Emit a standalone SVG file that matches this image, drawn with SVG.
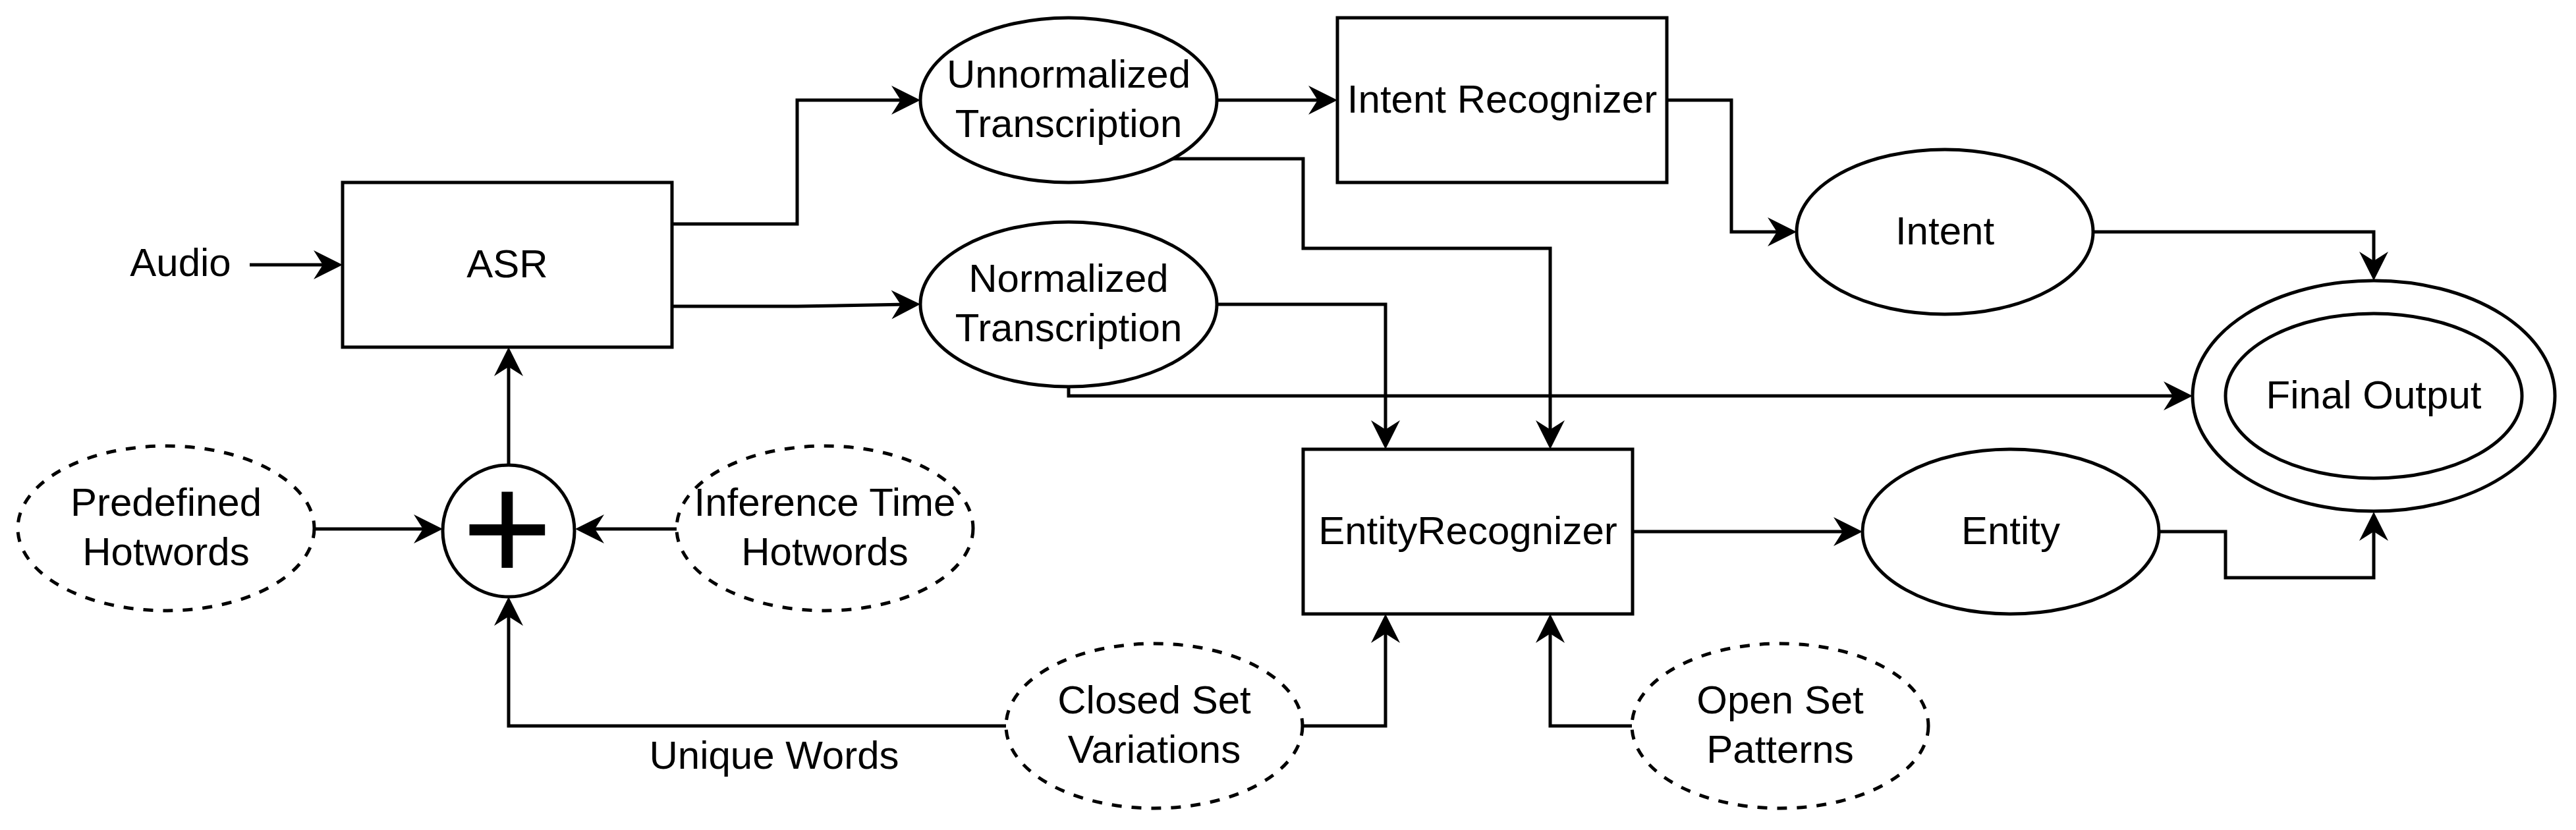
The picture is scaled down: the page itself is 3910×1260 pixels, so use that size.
<svg xmlns="http://www.w3.org/2000/svg" width="3910" height="1260" viewBox="0 0 3910 1260">
<style>
.shape{fill:#fff;stroke:#000;stroke-width:5}
.dash{stroke-dasharray:15 15}
.edge{fill:none;stroke:#000;stroke-width:5;marker-end:url(#arr)}
text{font-family:"Liberation Sans",Arial,sans-serif;font-size:60px;fill:#000;text-anchor:middle}
</style>
<defs>
<marker id="arr" markerUnits="userSpaceOnUse" markerWidth="50" markerHeight="50" viewBox="0 -25 50 50" refX="24" refY="0" orient="auto" overflow="visible">
<path d="M44,0 L0,-22 L14,0 L0,22 Z" fill="#000"/>
</marker>
</defs>
<rect width="3910" height="1260" fill="#fff"/>
<g id="connectors">
<path class="edge" d="M379,402 H500"/>
<path class="edge" d="M1020,340 H1210 V152 H1377"/>
<path class="edge" d="M1020,465 H1210 L1377,462"/>
<path class="edge" d="M1847,152 H2010"/>
<path class="edge" d="M1780,241 H1978 V377 H2353 V662"/>
<path class="edge" d="M1847,462 H2103 V662"/>
<path class="edge" d="M1622,587 V601 H3308"/>
<path class="edge" d="M2530,152 H2628 V352 H2707"/>
<path class="edge" d="M3177,352 H3603 V406"/>
<path class="edge" d="M2478,807 H2807"/>
<path class="edge" d="M3277,807 H3378 V877 H3603 V797"/>
<path class="edge" d="M772,706 V547"/>
<path class="edge" d="M477,803 H652"/>
<path class="edge" d="M1027,803 H893"/>
<path class="edge" d="M1527,1102 H772 V926"/>
<path class="edge" d="M1977,1102 H2103 V952"/>
<path class="edge" d="M2477,1102 H2353 V952"/>
<text x="1175" y="1167">Unique Words</text>
</g>
<g id="audio"><text x="274" y="419">Audio</text></g>
<g id="asr"><rect class="shape" x="520" y="277" width="500" height="250"/><text x="770" y="421">ASR</text></g>
<g id="unnormalized"><ellipse class="shape" cx="1622" cy="152" rx="225" ry="125"/><text x="1622" y="133">Unnormalized</text><text x="1622" y="208">Transcription</text></g>
<g id="normalized"><ellipse class="shape" cx="1622" cy="462" rx="225" ry="125"/><text x="1622" y="443">Normalized</text><text x="1622" y="518">Transcription</text></g>
<g id="intent-recognizer"><rect class="shape" x="2030" y="27" width="500" height="250"/><text x="2280" y="171">Intent Recognizer</text></g>
<g id="intent"><ellipse class="shape" cx="2952" cy="352" rx="225" ry="125"/><text x="2952" y="371">Intent</text></g>
<g id="final-output"><ellipse class="shape" cx="3603" cy="601" rx="275" ry="175"/><ellipse class="shape" cx="3603" cy="601" rx="225" ry="125"/><text x="3603" y="620">Final Output</text></g>
<g id="entity-recognizer"><rect class="shape" x="1978" y="682" width="500" height="250"/><text x="2228" y="826">EntityRecognizer</text></g>
<g id="entity"><ellipse class="shape" cx="3052" cy="807" rx="225" ry="125"/><text x="3052" y="826">Entity</text></g>
<g id="sum"><circle class="shape" cx="772" cy="806" r="100"/><text x="770" y="883" style="font-size:236px">+</text></g>
<g id="predefined-hotwords"><ellipse class="shape dash" cx="252" cy="802" rx="225" ry="125"/><text x="252" y="783">Predefined</text><text x="252" y="858">Hotwords</text></g>
<g id="inference-hotwords"><ellipse class="shape dash" cx="1252" cy="802" rx="225" ry="125"/><text x="1252" y="783">Inference Time</text><text x="1252" y="858">Hotwords</text></g>
<g id="closed-set"><ellipse class="shape dash" cx="1752" cy="1102" rx="225" ry="125"/><text x="1752" y="1083">Closed Set</text><text x="1752" y="1158">Variations</text></g>
<g id="open-set"><ellipse class="shape dash" cx="2702" cy="1102" rx="225" ry="125"/><text x="2702" y="1083">Open Set</text><text x="2702" y="1158">Patterns</text></g>
</svg>
